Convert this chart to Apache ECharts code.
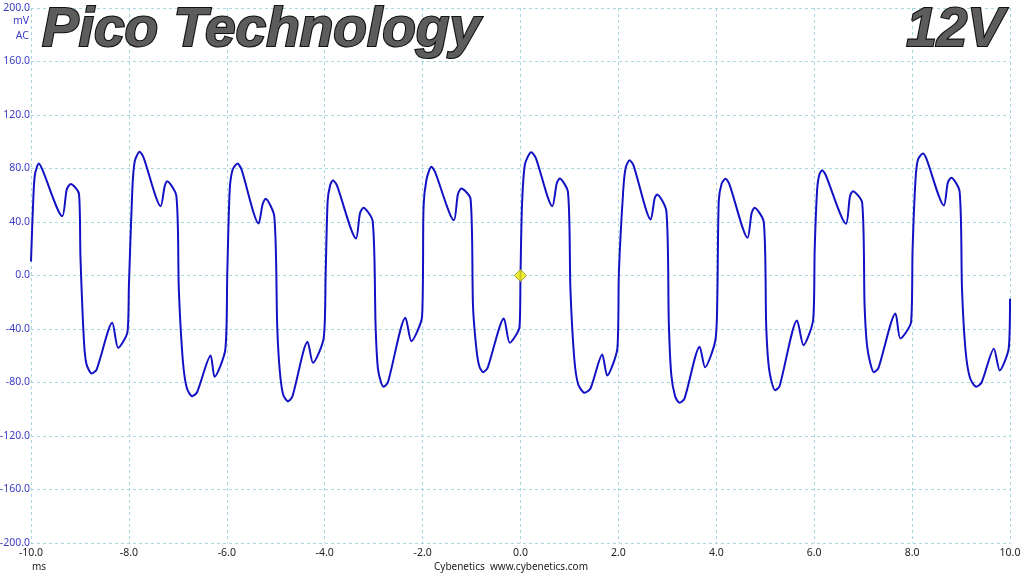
<!DOCTYPE html>
<html>
<head>
<meta charset="utf-8">
<script src="https://cdn.jsdelivr.net/npm/echarts@6/dist/echarts.min.js"></script>
<style>
html,body{margin:0;padding:0;background:#fff;}
#chart{width:1024px;height:576px;}
</style>
</head>
<body>
<div id="chart"></div>
<script>
// Data (time in ms, ripple in mV)
const timeMs = [
-10.0,-9.955,-9.92,-9.84,-9.77,-9.36,-9.27,-9.19,-9.02,-8.99,-8.92,-8.87,-8.76,-8.66,-8.34,-8.22,-8.03,
-8.0,-7.93,-7.88,-7.78,-7.70,-7.35,-7.27,-7.22,-7.03,-6.98,-6.90,-6.82,-6.71,-6.61,-6.33,-6.25,-6.03,
-5.99,-5.94,-5.88,-5.78,-5.70,-5.35,-5.27,-5.21,-5.03,-4.97,-4.92,-4.85,-4.75,-4.66,-4.35,-4.24,-4.02,
-3.98,-3.94,-3.89,-3.83,-3.75,-3.36,-3.28,-3.21,-3.02,-2.96,-2.91,-2.80,-2.71,-2.35,-2.23,-2.01,
-1.98,-1.92,-1.82,-1.75,-1.36,-1.28,-1.21,-1.02,-0.97,-0.90,-0.84,-0.76,-0.67,-0.34,-0.22,-0.02,
0.0,0.03,0.09,0.22,0.31,0.65,0.74,0.80,0.97,1.02,1.10,1.18,1.31,1.43,1.67,1.77,1.98,
2.01,2.10,2.15,2.23,2.31,2.66,2.74,2.79,2.98,3.03,3.08,3.16,3.25,3.35,3.66,3.77,3.98,
4.02,4.05,4.11,4.19,4.27,4.64,4.72,4.78,4.97,5.02,5.08,5.20,5.29,5.65,5.78,5.98,
6.01,6.06,6.10,6.16,6.23,6.65,6.73,6.79,6.98,7.03,7.09,7.22,7.31,7.66,7.76,7.98,
8.01,8.07,8.12,8.22,8.29,8.65,8.73,8.80,8.97,9.02,9.09,9.18,9.31,9.42,9.67,9.79,9.975,10.0
];
const voltageMv = [
10.5,55.6,75.5,83.7,79.3,44.3,64.3,68.5,61.1,14.4,-47.9,-65.8,-73.3,-70.3,-35.4,-54.1,-42.4,
-8.0,64.3,85.5,92.5,88.2,51.8,66.5,70.5,59.3,-10.5,-62.8,-83.7,-90.2,-87.5,-59.8,-75.7,-55.3,
2.0,64.3,79.3,83.7,79.3,38.9,53.1,57.3,44.3,-37.9,-70.3,-89.0,-94.0,-90.5,-49.6,-65.3,-46.6,
2.0,55.6,67.3,71.3,67.3,27.7,46.4,50.6,40.6,-37.9,-70.3,-83.2,-80.0,-31.6,-49.1,-30.4,
51.8,71.8,81.3,77.8,41.3,60.6,65.0,57.3,-23.0,-55.3,-68.0,-72.3,-68.8,-32.1,-50.3,-38.4,
0.0,51.8,83.0,92.2,88.2,51.8,68.8,72.5,62.3,-10.5,-62.8,-81.5,-87.7,-84.5,-59.1,-74.8,-54.1,
2.2,64.3,80.7,86.2,82.2,41.9,57.6,60.6,48.1,-35.4,-74.0,-90.5,-95.2,-92.0,-53.3,-68.6,-48.6,
-17.9,55.6,68.8,72.3,68.0,28.2,46.4,50.6,39.9,-37.9,-70.3,-85.8,-83.0,-33.6,-52.1,-32.9,
19.4,64.3,74.8,78.7,75.5,38.7,59.1,63.0,54.4,-23.0,-55.3,-72.3,-69.5,-28.4,-47.1,-34.6,
19.4,71.8,86.7,91.2,87.5,52.3,69.5,73.0,63.0,-10.5,-55.3,-76.3,-83.2,-80.0,-54.8,-71.0,-54.1,-17.4
];
const triggerPoint = [[0.0, 0.0]];
const xTicks = { min: -10, max: 10, step: 2 };
const yTicks = { min: -200, max: 200, step: 40 };
const titleText = 'Pico Technology';
const railText = '12V';
const unitLines = ['mV', 'AC'];
const xUnit = 'ms';
const footerText = 'Cybenetics  www.cybenetics.com';

const seriesData = timeMs.map((t, i) => [t, voltageMv[i]]);

const chart = echarts.init(document.getElementById('chart'), null, { renderer: 'canvas' });

const gridColor = '#a9d9e0';
const labelFont = '"Noto Sans", "Open Sans", sans-serif';

const titleBase = {
  font: 'italic bold 55px "Liberation Sans", Arial, sans-serif',
  fill: '#5c5c5c', stroke: '#121212', lineWidth: 2.2,
  shadowColor: 'rgba(0,0,0,0.5)', shadowBlur: 3, shadowOffsetX: 2, shadowOffsetY: 2
};

chart.setOption({
  animation: false,
  backgroundColor: '#ffffff',
  grid: { left: 31, right: 14, top: 8, bottom: 33, containLabel: false, outerBoundsMode: 'none' },
  xAxis: {
    type: 'value',
    min: xTicks.min, max: xTicks.max, interval: xTicks.step,
    axisLine: { show: false },
    axisTick: { show: false },
    axisLabel: {
      color: '#222', fontSize: 10.5, fontFamily: labelFont, margin: 5,
      formatter: v => v.toFixed(1)
    },
    splitLine: { show: true, lineStyle: { color: gridColor, type: [3, 3], width: 1 } }
  },
  yAxis: {
    type: 'value',
    min: yTicks.min, max: yTicks.max, interval: yTicks.step,
    axisLine: { show: false },
    axisTick: { show: false },
    axisLabel: {
      color: '#3b3bc4', fontSize: 10.5, fontFamily: labelFont, margin: 1,
      formatter: v => v.toFixed(1)
    },
    splitLine: { show: true, lineStyle: { color: gridColor, type: [3, 3], width: 1 } }
  },
  series: [
    {
      type: 'line',
      data: seriesData,
      showSymbol: false,
      smooth: 0.25,
      lineStyle: { color: '#1212c4', width: 2 },
      z: 3
    },
    {
      type: 'scatter',
      data: triggerPoint,
      symbol: 'diamond',
      symbolSize: [12, 12],
      itemStyle: { color: '#f4f000', borderColor: '#8c8c20', borderWidth: 1 },
      z: 5
    }
  ],
  graphic: [
    { type: 'text', x: 42, y: 3, z: 10, style: Object.assign({ text: titleText }, titleBase) },
    { type: 'text', x: 1004, y: 3, z: 10, style: Object.assign({ text: railText, align: 'right' }, titleBase) },
    {
      type: 'text', x: 29, y: 16, z: 10,
      style: { text: unitLines[0], fill: '#3b3bc4', font: '10.5px ' + labelFont, align: 'right' }
    },
    {
      type: 'text', x: 29, y: 31, z: 10,
      style: { text: unitLines[1], fill: '#3b3bc4', font: '10.5px ' + labelFont, align: 'right' }
    },
    {
      type: 'text', x: 32, y: 562, z: 10,
      style: { text: xUnit, fill: '#222', font: '10px ' + labelFont }
    },
    {
      type: 'text', x: 511, y: 562, z: 10,
      style: { text: footerText, fill: '#222', font: '10px ' + labelFont, align: 'center' }
    }
  ]
});
</script>
</body>
</html>
